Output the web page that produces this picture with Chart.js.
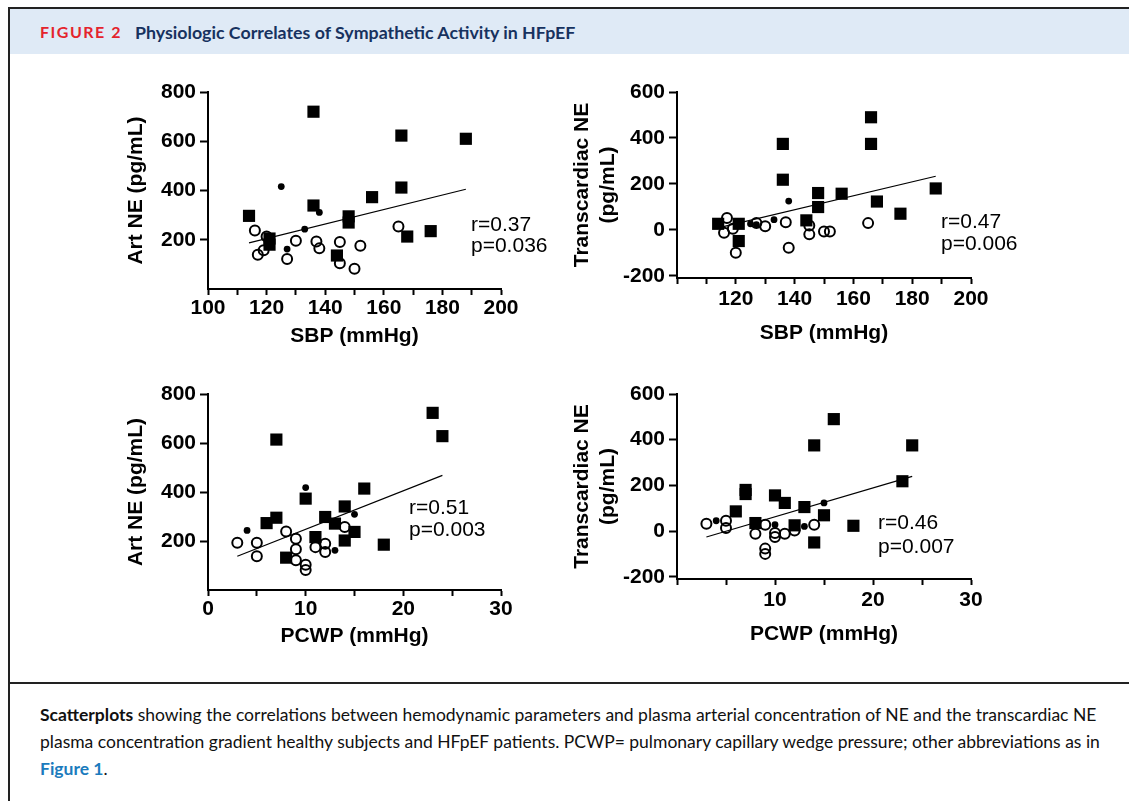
<!DOCTYPE html>
<html>
<head>
<meta charset="utf-8">
<script src="https://cdn.jsdelivr.net/npm/chart.js@4.4.0/dist/chart.umd.min.js"></script>
<style>
  body { margin: 0; width: 1129px; height: 801px; overflow: hidden; position: relative; background: #fff; font-family: Lato, "Open Sans", sans-serif; }
  #frame { position: absolute; left: 8px; top: 7px; width: 1200px; height: 900px; border-left: 2px solid #222; border-top: 2px solid #222; }
  #head { position: absolute; left: 10px; top: 9px; width: 1119px; height: 45px; background: #dfeaf6; }
  #head span { position: absolute; top: 12px; font-weight: bold; line-height: 22px; white-space: nowrap; }
  #fig { left: 30px; color: #e4232c; font-size: 16px; letter-spacing: 1.5px; }
  #ttl { left: 125px; color: #17325f; font-size: 17.8px; }
  #rule { position: absolute; left: 10px; top: 682px; width: 1119px; height: 2px; background: #222; }
  #cap { position: absolute; left: 40px; top: 701px; font-size: 17.5px; line-height: 27px; color: #111; white-space: nowrap; }
  #cap a { color: #1b7bbd; font-weight: bold; text-decoration: none; }
  canvas { position: absolute; }
</style>
</head>
<body>
<div id="frame"></div>
<div id="head"><span id="fig">FIGURE 2</span><span id="ttl">Physiologic Correlates of Sympathetic Activity in HFpEF</span></div>
<canvas id="c1" width="470" height="300" style="left:100px;top:70px"></canvas>
<canvas id="c2" width="520" height="300" style="left:560px;top:70px"></canvas>
<canvas id="c3" width="470" height="300" style="left:100px;top:370px"></canvas>
<canvas id="c4" width="520" height="300" style="left:560px;top:370px"></canvas>
<div id="rule"></div>
<div id="cap"><b>Scatterplots</b> showing the correlations between hemodynamic parameters and plasma arterial concentration of NE and the transcardiac NE<br>plasma concentration gradient healthy subjects and HFpEF patients. PCWP= pulmonary capillary wedge pressure; other abbreviations as in<br><a>Figure 1</a>.</div>
<script>
// tick values and labels
const sbpTicks = [100, 110, 120, 130, 140, 150, 160, 170, 180, 190, 200];
const sbpLabelsA = [100, 120, 140, 160, 180, 200];
const sbpLabelsB = [120, 140, 160, 180, 200];
const pcwpTicks = [0, 5, 10, 15, 20, 25, 30];
const pcwpLabelsA = [0, 10, 20, 30];
const pcwpLabelsB = [10, 20, 30];
const artTicks = [200, 400, 600, 800];
const tcTicks = [-200, 0, 200, 400, 600];

// SBP vs Art NE
const sbpArtSqX = [136, 166, 188, 166, 156, 136, 114, 148, 148, 121, 121, 168, 176, 144];
const sbpArtSqY = [720, 623, 610, 412, 373, 339, 297, 295, 270, 205, 180, 213, 235, 136];
const sbpArtCiX = [116, 120, 119, 117, 130, 127, 137, 138, 145, 145, 152, 150, 165];
const sbpArtCiY = [238, 213, 157, 139, 196, 122, 193, 165, 191, 105, 176, 82, 254];
const sbpArtDotX = [125, 138, 133, 127];
const sbpArtDotY = [416, 311, 243, 162];
const sbpArtFitX = [114, 188];
const sbpArtFitY = [187, 405];

// SBP vs transcardiac NE
const sbpTcSqX = [166, 166, 136, 136, 148, 148, 156, 168, 188, 176, 144, 114, 121, 121];
const sbpTcSqY = [490, 374, 374, 218, 160, 99, 157, 123, 180, 70, 41, 26, 26, -49];
const sbpTcCiX = [117, 116, 119, 120, 127, 130, 137, 138, 145, 145, 150, 152, 165];
const sbpTcCiY = [51, -13, 4, -100, 30, 15, 33, -78, 19, -20, -7, -7, 29];
const sbpTcDotX = [138, 133, 125, 127];
const sbpTcDotY = [125, 44, 26, 22];
const sbpTcFitX = [114, 188];
const sbpTcFitY = [8, 233];

// PCWP vs Art NE
const pcwpArtSqX = [23, 24, 7, 16, 10, 14, 7, 6, 12, 13, 15, 14, 11, 18, 8];
const pcwpArtSqY = [723, 628, 614, 414, 373, 341, 295, 273, 298, 271, 237, 202, 216, 185, 132];
const pcwpArtCiX = [3, 5, 5, 8, 9, 9, 9, 10, 10, 11, 12, 12, 14];
const pcwpArtCiY = [193, 193, 138, 239, 209, 166, 121, 103, 82, 175, 189, 155, 257];
const pcwpArtDotX = [10, 4, 15, 13];
const pcwpArtDotY = [418, 243, 309, 162];
const pcwpArtFitX = [3, 24];
const pcwpArtFitY = [138, 468];

// PCWP vs transcardiac NE
const pcwpTcSqX = [16, 14, 24, 23, 7, 7, 10, 11, 13, 6, 15, 8, 12, 18, 14];
const pcwpTcSqY = [490, 375, 375, 218, 180, 162, 156, 123, 105, 86, 69, 35, 25, 23, -50];
const pcwpTcCiX = [3, 5, 5, 8, 9, 9, 9, 10, 10, 11, 12, 14];
const pcwpTcCiY = [32, 45, 13, -12, 28, -77, -100, -9, -26, -12, 2, 28];
const pcwpTcDotX = [4, 15, 10, 13];
const pcwpTcDotY = [45, 123, 28, 20];
const pcwpTcFitX = [3, 24];
const pcwpTcFitY = [-26, 239];

const pts = (xs, ys) => xs.map((x, i) => ({ x, y: ys[i] }));
const tickFont = { family: '"Liberation Sans", Arial, sans-serif', size: 21, weight: 'bold' };

// r / p text
const statsText = {
  id: 'statsText',
  afterDraw(chart, args, opts) {
    const ctx = chart.ctx;
    ctx.save();
    ctx.font = '21px "Liberation Sans", Arial, sans-serif';
    ctx.fillStyle = '#000';
    ctx.textBaseline = 'middle';
    opts.lines.forEach((t, i) => ctx.fillText(t, opts.x, opts.y[i]));
    ctx.restore();
  }
};

function makeChart(id, c) {
  return new Chart(document.getElementById(id), {
    type: 'scatter',
    data: {
      datasets: [
        { data: pts(c.ciX, c.ciY), pointStyle: 'circle', pointRadius: 5, backgroundColor: 'rgba(0,0,0,0)', borderColor: '#000', borderWidth: 2 },
        { data: pts(c.sqX, c.sqY), pointStyle: 'rect', pointRadius: 8.6, backgroundColor: '#000', borderColor: '#000', borderWidth: 0 },
        { data: pts(c.dotX, c.dotY), pointStyle: 'circle', pointRadius: 3.4, backgroundColor: '#000', borderWidth: 0 },
        { type: 'line', data: pts(c.fitX, c.fitY), borderColor: '#000', borderWidth: 1.2, pointRadius: 0, fill: false }
      ]
    },
    options: {
      responsive: false,
      animation: false,
      events: [],
      layout: { padding: { top: c.padTop, right: c.padRight, left: 0, bottom: 0 } },
      plugins: {
        legend: { display: false },
        tooltip: { enabled: false },
        statsText: c.stats
      },
      scales: {
        x: {
          type: 'linear', min: c.xMin, max: c.xMax,
          afterBuildTicks: s => { s.ticks = c.xTicks.map(v => ({ value: v })); },
          afterFit: s => { s.height = c.xH; },
          ticks: { autoSkip: false, maxRotation: 0, padding: c.xTickPad, color: '#000', font: tickFont,
                   callback: v => c.xLabels.includes(v) ? String(v) : '' },
          grid: { drawOnChartArea: false, tickLength: 6, tickColor: '#000', tickWidth: 2 },
          border: { color: '#000', width: 2 },
          title: { display: true, text: c.xTitle, color: '#000', padding: { top: 0, bottom: c.xTitlePad },
                   font: { family: '"Liberation Sans", Arial, sans-serif', size: 21, weight: 'bold' } }
        },
        y: {
          type: 'linear', min: c.yMin, max: c.yMax,
          afterBuildTicks: s => { s.ticks = c.yTicks.map(v => ({ value: v })); },
          afterFit: s => { s.width = c.yW; },
          ticks: { autoSkip: false, padding: 4, color: '#000', font: tickFont },
          grid: { drawOnChartArea: false, tickLength: 8, tickColor: '#000', tickWidth: 2 },
          border: { color: '#000', width: 2 },
          title: { display: true, text: c.yTitle, color: '#000', padding: { top: c.yTitlePad, bottom: 0 },
                   font: { family: '"Liberation Sans", Arial, sans-serif', size: 21, weight: 'bold', lineHeight: 1.24 } }
        }
      }
    },
    plugins: [statsText]
  });
}

makeChart('c1', {
  sqX: sbpArtSqX, sqY: sbpArtSqY, ciX: sbpArtCiX, ciY: sbpArtCiY, dotX: sbpArtDotX, dotY: sbpArtDotY,
  fitX: sbpArtFitX, fitY: sbpArtFitY,
  xMin: 100, xMax: 200, xTicks: sbpTicks, xLabels: sbpLabelsA, xTitle: 'SBP (mmHg)',
  yMin: 0, yMax: 800, yTicks: artTicks, yTitle: 'Art NE (pg/mL)',
  padTop: 22, padRight: 69, xH: 81, yW: 108, xTitlePad: 21, yTitlePad: 23, xTickPad: 1,
  stats: { lines: ['r=0.37', 'p=0.036'], x: 371, y: [155, 176] }
});
makeChart('c2', {
  sqX: sbpTcSqX, sqY: sbpTcSqY, ciX: sbpTcCiX, ciY: sbpTcCiY, dotX: sbpTcDotX, dotY: sbpTcDotY,
  fitX: sbpTcFitX, fitY: sbpTcFitY,
  xMin: 100, xMax: 200, xTicks: sbpTicks, xLabels: sbpLabelsB, xTitle: 'SBP (mmHg)',
  yMin: -210, yMax: 600, yTicks: tcTicks, yTitle: ['Transcardiac NE', '(pg/mL)'],
  padTop: 22, padRight: 109, xH: 92, yW: 117, xTitlePad: 24, yTitlePad: 9, xTickPad: 3,
  stats: { lines: ['r=0.47', 'p=0.006'], x: 381, y: [152, 174] }
});
makeChart('c3', {
  sqX: pcwpArtSqX, sqY: pcwpArtSqY, ciX: pcwpArtCiX, ciY: pcwpArtCiY, dotX: pcwpArtDotX, dotY: pcwpArtDotY,
  fitX: pcwpArtFitX, fitY: pcwpArtFitY,
  xMin: 0, xMax: 30, xTicks: pcwpTicks, xLabels: pcwpLabelsA, xTitle: 'PCWP (mmHg)',
  yMin: 0, yMax: 800, yTicks: artTicks, yTitle: 'Art NE (pg/mL)',
  padTop: 24, padRight: 69, xH: 80, yW: 108, xTitlePad: 21, yTitlePad: 23, xTickPad: 1,
  stats: { lines: ['r=0.51', 'p=0.003'], x: 309, y: [138, 160] }
});
makeChart('c4', {
  sqX: pcwpTcSqX, sqY: pcwpTcSqY, ciX: pcwpTcCiX, ciY: pcwpTcCiY, dotX: pcwpTcDotX, dotY: pcwpTcDotY,
  fitX: pcwpTcFitX, fitY: pcwpTcFitY,
  xMin: 0, xMax: 30, xTicks: pcwpTicks, xLabels: pcwpLabelsB, xTitle: 'PCWP (mmHg)',
  yMin: -210, yMax: 600, yTicks: tcTicks, yTitle: ['Transcardiac NE', '(pg/mL)'],
  padTop: 24, padRight: 109, xH: 91, yW: 117, xTitlePad: 23, yTitlePad: 9, xTickPad: 3,
  stats: { lines: ['r=0.46', 'p=0.007'], x: 318, y: [153, 177] }
});
</script>
</body>
</html>
